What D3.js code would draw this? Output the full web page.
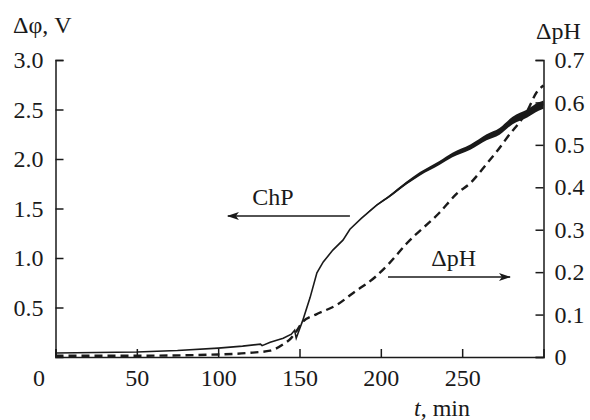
<!DOCTYPE html>
<html><head><meta charset="utf-8">
<script src="https://cdn.jsdelivr.net/npm/d3@7"></script>
<style>
body{margin:0;background:#fff}
text{font-family:"Liberation Serif","Times New Roman",serif;fill:#1a1a1a}
</style>
</head><body>
<svg id="c" width="590" height="420"></svg>
<script>
// ChP potential (left axis, V)
const chpTime  = [0, 25, 50, 75, 100, 115, 126, 127, 132, 140, 145, 147, 148, 150, 152, 156.5, 160.7, 164.6, 170.5, 176.7, 181, 188, 197.5, 205, 216, 224, 236, 244, 255, 265, 273, 281, 290, 297, 300];
const chpVolt  = [0.04, 0.045, 0.05, 0.065, 0.09, 0.11, 0.13, 0.115, 0.15, 0.19, 0.23, 0.27, 0.19, 0.28, 0.37, 0.6, 0.85, 0.96, 1.08, 1.18, 1.29, 1.4, 1.535, 1.62, 1.76, 1.85, 1.96, 2.04, 2.12, 2.22, 2.28, 2.39, 2.46, 2.53, 2.55];
// visible noise half-width of the ChP trace (V)
const chpSpread = [0, 0, 0, 0, 0, 0, 0, 0, 0, 0, 0, 0, 0, 0, 0, 0, 0, 0, 0, 0, 0, 0.004, 0.008, 0.012, 0.016, 0.018, 0.02, 0.023, 0.026, 0.03, 0.034, 0.038, 0.04, 0.042, 0.042];
// ΔpH (right axis)
const phTime  = [0, 50, 100, 120, 132, 140, 145, 148, 152, 160, 173, 183, 197, 205, 216, 236, 247, 255, 265, 272, 278, 290, 296, 300];
const phValue = [0.003, 0.003, 0.006, 0.01, 0.015, 0.03, 0.045, 0.06, 0.083, 0.1, 0.123, 0.151, 0.19, 0.22, 0.268, 0.34, 0.386, 0.41, 0.455, 0.488, 0.519, 0.58, 0.625, 0.64];

const xTicks = [0, 50, 100, 150, 200, 250];
const leftTicks = [0.5, 1.0, 1.5, 2.0, 2.5, 3.0];
const rightTicks = [0, 0.1, 0.2, 0.3, 0.4, 0.5, 0.6, 0.7];

const svg = d3.select("#c");
const L = 55.5, R = 543.5, T = 60, B = 357;
const x = d3.scaleLinear().domain([0, 300]).range([L, R]);
const yL = d3.scaleLinear().domain([0, 3]).range([B, T]);
const yR = d3.scaleLinear().domain([0, 0.7]).range([B, T]);
const ink = "#1a1a1a";
const fs = "24px";

// marker
svg.append("defs").append("marker")
  .attr("id", "ah").attr("markerUnits", "userSpaceOnUse")
  .attr("markerWidth", 14).attr("markerHeight", 10)
  .attr("refX", 11).attr("refY", 5).attr("orient", "auto")
  .append("path").attr("d", "M0,1 L12,5 L0,9 L3,5 Z").attr("fill", ink);

// axes
const ax = svg.append("g").attr("transform", `translate(0,${B})`)
  .call(d3.axisBottom(x).tickValues(xTicks).tickSize(-8).tickPadding(12).tickFormat(d3.format("d")));
const al = svg.append("g").attr("transform", `translate(${L},0)`)
  .call(d3.axisLeft(yL).tickValues(leftTicks).tickSize(-8).tickPadding(12).tickFormat(d3.format(".1f")));
const ar = svg.append("g").attr("transform", `translate(${R},0)`)
  .call(d3.axisRight(yR).tickValues(rightTicks).tickSize(-8).tickPadding(11).tickFormat(d => d === 0 ? "0" : d3.format(".1f")(d)));
[ax, al, ar].forEach(g => {
  g.selectAll("path,line").attr("stroke", ink).attr("stroke-width", 1.5);
  g.selectAll("text").attr("font-size", fs).attr("font-family", '"Liberation Serif",serif').attr("fill", ink);
});
ax.selectAll(".tick").filter(d => d === 0).select("text").attr("dx", -17);

// ChP noise band + line
const band = chpTime.map((t, i) => ({t, v: chpVolt[i], s: chpSpread[i]}));
svg.append("path").datum(band.filter(d => d.t >= 185))
  .attr("fill", ink)
  .attr("d", d3.area().x(d => x(d.t)).y0(d => yL(d.v - d.s)).y1(d => yL(d.v + d.s)).curve(d3.curveMonotoneX));
svg.append("path").datum(band)
  .attr("fill", "none").attr("stroke", ink).attr("stroke-width", 1.6)
  .attr("d", d3.line().x(d => x(d.t)).y(d => yL(d.v)));

// ΔpH dashed
const ph = phTime.map((t, i) => ({t, v: phValue[i]}));
svg.append("path").datum(ph)
  .attr("fill", "none").attr("stroke", ink).attr("stroke-width", 2.4)
  .attr("stroke-dasharray", "8,5")
  .attr("d", d3.line().x(d => x(d.t)).y(d => yR(d.v)).curve(d3.curveMonotoneX));

// annotations
svg.append("line").attr("x1", x(181)).attr("x2", x(106)).attr("y1", yL(1.424)).attr("y2", yL(1.424))
  .attr("stroke", ink).attr("stroke-width", 1.5).attr("marker-end", "url(#ah)");
svg.append("text").attr("x", x(121)).attr("y", yL(1.535)).attr("font-size", fs).text("ChP");
svg.append("line").attr("x1", x(204.4)).attr("x2", x(279.4)).attr("y1", yR(0.1886)).attr("y2", yR(0.1886))
  .attr("stroke", ink).attr("stroke-width", 1.5).attr("marker-end", "url(#ah)");
svg.append("text").attr("x", x(231)).attr("y", yR(0.2145)).attr("font-size", fs).text("ΔpH");

// axis titles
svg.append("text").attr("x", 13).attr("y", 33).attr("font-size", fs).text("Δφ, V");
svg.append("text").attr("x", 536).attr("y", 39).attr("font-size", fs).text("ΔpH");
const xt = svg.append("text").attr("x", 414).attr("y", 416).attr("font-size", fs);
xt.append("tspan").attr("font-style", "italic").text("t");
xt.append("tspan").text(", min");
</script>
</body></html>
